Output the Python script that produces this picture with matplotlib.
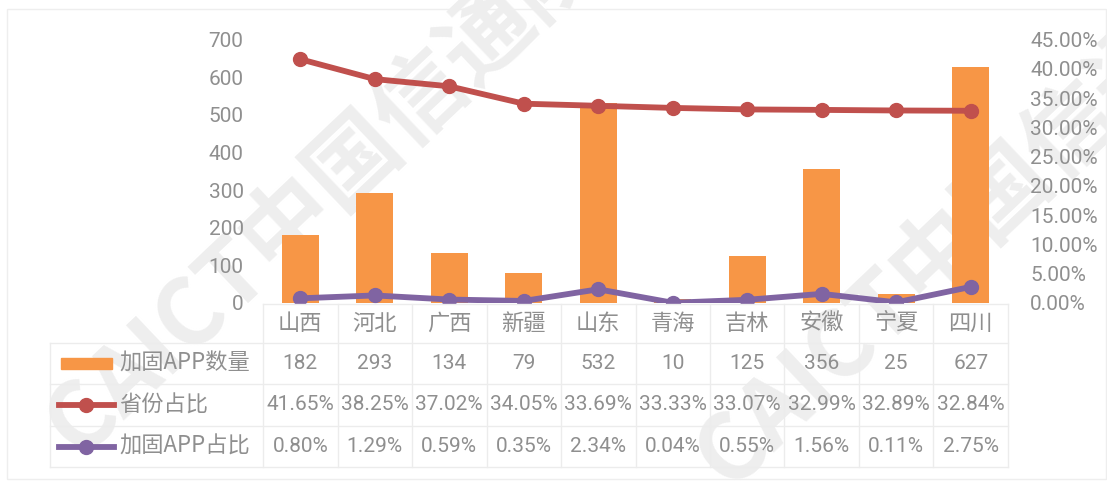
import matplotlib
matplotlib.use("Agg")
import matplotlib.pyplot as plt
from matplotlib.transforms import blended_transform_factory
from matplotlib.lines import Line2D
from matplotlib.patches import Rectangle

NUM_FONT = ['Roboto', 'Noto Sans CJK SC', 'DejaVu Sans']
CJK_FONT = ['Noto Sans CJK SC', 'DejaVu Sans']
plt.rcParams['font.family'] = NUM_FONT

provinces = ['山西', '河北', '广西', '新疆', '山东', '青海', '吉林', '安徽', '宁夏', '四川']
app_count = [182, 293, 134, 79, 532, 10, 125, 356, 25, 627]
prov_share = [41.65, 38.25, 37.02, 34.05, 33.69, 33.33, 33.07, 32.99, 32.89, 32.84]
app_share = [0.80, 1.29, 0.59, 0.35, 2.34, 0.04, 0.55, 1.56, 0.11, 2.75]
series_names = ['加固APP数量', '省份占比', '加固APP占比']

ORANGE = '#F79646'
RED = '#C0504D'
PURPLE = '#8064A2'
GRAY = '#8f8f8f'
GRID = '#ececec'
FS_NUM = 15
FS_CJK = 16

W, H = 1107, 482
fig = plt.figure(figsize=(W / 100, H / 100), dpi=100)
fig.patch.set_facecolor('white')


def fy(py):
    return 1 - py / H


def fx(px):
    return px / W


# watermark (behind everything)
for cx, cy in [(325, 190), (975, 222)]:
    fig.text(fx(cx), fy(cy), 'CAICT中国信通院', rotation=43.5, fontsize=66,
             fontweight='bold', color='#eeeeee', ha='center', va='center',
             family=CJK_FONT, zorder=-5)

# outer frame
fig.add_artist(Rectangle((fx(7), fy(479)), fx(1106) - fx(7), fy(9) - fy(479),
                         transform=fig.transFigure, fill=False,
                         edgecolor='#eeeeee', lw=1))

x0, x1 = 263, 1008
ytop, ybot = 39.6, 303
ax = fig.add_axes([fx(x0), fy(ybot), fx(x1) - fx(x0), fy(ytop) - fy(ybot)])
ax.patch.set_visible(False)
ax2 = ax.twinx()
ax2.patch.set_visible(False)

xs = list(range(len(provinces)))
ax.bar(xs, app_count, width=0.5, color=ORANGE, zorder=2)
ax.set_xlim(-0.5, len(provinces) - 0.5)
ax.set_ylim(0, 700)
ax.set_yticks(range(0, 701, 100))

ax2.plot(xs, prov_share, color=RED, lw=4.2, marker='o', ms=10, zorder=3)
ax2.plot(xs, app_share, color=PURPLE, lw=4.2, marker='o', ms=10, zorder=3)
ax2.set_ylim(0, 45)
ax2.set_yticks(range(0, 46, 5))
ax2.set_yticklabels([f'{v:.2f}%' for v in range(0, 46, 5)])

for a in (ax, ax2):
    for s in a.spines.values():
        s.set_visible(False)
    a.tick_params(length=0, labelsize=FS_NUM, labelcolor=GRAY)
ax.set_xticks([])
ax.tick_params(axis='y', pad=14)
ax2.tick_params(axis='y', pad=16)

# data table under the plot
tr = blended_transform_factory(ax.transData, fig.transFigure)
rows_y = [304, 343, 384, 426, 467]
for i, py in enumerate(rows_y):
    left = x0 if i == 0 else 50
    fig.add_artist(Line2D([fx(left), fx(x1)], [fy(py), fy(py)], color=GRID,
                          lw=1, transform=fig.transFigure))
for k in range(len(provinces) + 1):
    fig.add_artist(Line2D([k - 0.5, k - 0.5], [fy(304), fy(467)], color=GRID,
                          lw=1, transform=tr))
fig.add_artist(Line2D([fx(50), fx(50)], [fy(343), fy(467)], color=GRID, lw=1,
                      transform=fig.transFigure))

row_text = [
    provinces,
    [str(v) for v in app_count],
    [f'{v:.2f}%' for v in prov_share],
    [f'{v:.2f}%' for v in app_share],
]
for r, texts in enumerate(row_text):
    cy = (rows_y[r] + rows_y[r + 1]) / 2
    fam, fs = (CJK_FONT, FS_CJK) if r == 0 else (NUM_FONT, FS_NUM)
    for k, t in enumerate(texts):
        fig.text(k, fy(cy), t, transform=tr, ha='center', va='center',
                 fontsize=fs, family=fam, color=GRAY)

# legend keys in first column
key_y = [(rows_y[r] + rows_y[r + 1]) / 2 for r in range(1, 4)]
fig.add_artist(Rectangle((fx(61), fy(key_y[0] + 5.5)), fx(112) - fx(61),
                         fy(key_y[0] - 5.5) - fy(key_y[0] + 5.5),
                         transform=fig.transFigure, color=ORANGE))
for cy, col in [(key_y[1], RED), (key_y[2], PURPLE)]:
    fig.add_artist(Line2D([fx(59), fx(114)], [fy(cy), fy(cy)], color=col,
                          lw=4.2, transform=fig.transFigure))
    fig.add_artist(Line2D([fx(86)], [fy(cy)], color=col, marker='o', ms=10,
                          transform=fig.transFigure))
for cy, name in zip(key_y, series_names):
    fig.text(fx(119), fy(cy), name, ha='left', va='center', fontsize=FS_CJK,
             family=CJK_FONT, color=GRAY)

fig.savefig('out.png', dpi=100)
